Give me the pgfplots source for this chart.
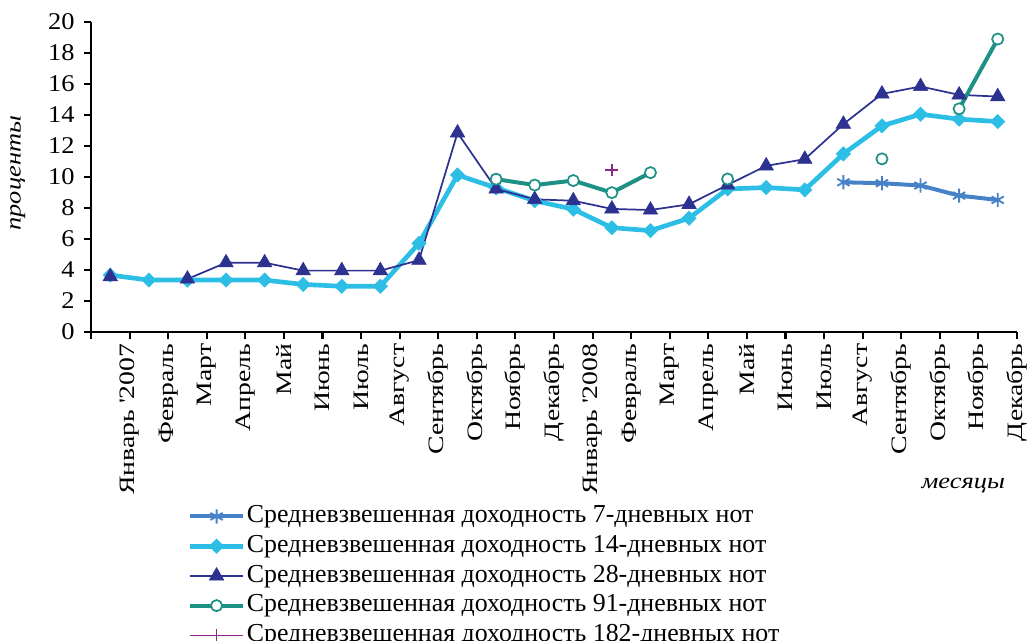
\documentclass[border=0pt]{standalone}
\usepackage{fontspec}
\setmainfont{Liberation Serif}
\newfontfamily\xtfont[FakeStretch=1.26]{Liberation Serif}
\newfontfamily\ytfont[FakeStretch=1.1]{Liberation Serif}
\newfontfamily\labfont[FakeStretch=1.2]{Liberation Serif}
\usepackage{pgfplots}
\pgfplotsset{compat=1.18}
\definecolor{c7}{RGB}{70,130,200}
\definecolor{c14}{RGB}{45,190,230}
\definecolor{c28}{RGB}{45,50,145}
\definecolor{c91}{RGB}{30,145,135}
\definecolor{c182}{RGB}{140,40,140}
\begin{document}
\begin{tikzpicture}
\useasboundingbox (-68.25pt,-231pt) rectangle (705.75pt,249pt);
\begin{axis}[
  at={(0pt,0pt)}, anchor=south west,
  width=694.5pt, height=232.5pt, scale only axis,
  /pgf/number format/assume math mode=true,
  xmin=0, xmax=24, ymin=0, ymax=20,
  axis x line*=bottom, axis y line*=left,
  axis line style={line width=1.6pt, black},
  every tick/.style={line width=1.6pt, black},
  tick align=outside, major tick length=5.25pt,
  xtick={0,...,24},
  xticklabels={,Январь \textquotesingle 2007,Февраль,Март,Апрель,Май,Июнь,Июль,Август,Сентябрь,Октябрь,Ноябрь,Декабрь,Январь \textquotesingle 2008,Февраль,Март,Апрель,Май,Июнь,Июль,Август,Сентябрь,Октябрь,Ноябрь,Декабрь},
  x tick label style={rotate=90, anchor=east, font=\xtfont\fontsize{16.5}{19}\selectfont},
  ytick={0,2,...,20},
  y tick label style={font=\ytfont\fontsize{18}{20}\selectfont, xshift=-3.5pt},
  xlabel={\labfont\itshape месяцы},
  xlabel style={at={(axis description cs:0.942,-0.494)}, anchor=center, font=\fontsize{16.5}{19}\selectfont},
  ylabel={\labfont\itshape проценты},
  ylabel style={at={(axis description cs:-0.079,0.513)}, anchor=center, font=\fontsize{16.5}{19}\selectfont},
  unbounded coords=jump,
  legend image code/.code={\draw[mark repeat=2,mark phase=2,#1] plot coordinates {(0pt,0pt)(20pt,0pt)(40pt,0pt)};},
  legend style={at={(0.104,-0.55)}, anchor=north west, draw=none, fill=none, inner sep=0pt,
    font=\fontsize{19.4}{22}\selectfont,
    nodes={inner sep=1pt, text height=14pt, text depth=4.5pt},
    row sep=1.8pt},
  legend cell align=left,
]
\addplot[c7, line width=3pt, mark=asterisk, mark size=5.3pt, mark options={solid, line width=1.4pt}]
  coordinates {(19.5,9.66)(20.5,9.6)(21.5,9.45)(22.5,8.8)(23.5,8.52)};
\addlegendentry{Средневзвешенная доходность 7-дневных нот}
\addplot[c14, line width=3.5pt, mark=square*, mark size=3.8pt, mark options={solid, rotate=45, line width=0.4pt}]
  coordinates {(0.5,3.67)(1.5,3.35)(2.5,3.35)(3.5,3.35)(4.5,3.35)(5.5,3.07)(6.5,2.95)(7.5,2.95)(8.5,5.72)(9.5,10.13)(10.5,9.3)(11.5,8.47)
  (12.5,7.92)(13.5,6.73)(14.5,6.54)(15.5,7.34)(16.5,9.23)(17.5,9.32)(18.5,9.17)(19.5,11.49)(20.5,13.3)(21.5,14.05)(22.5,13.73)(23.5,13.58)};
\addlegendentry{Средневзвешенная доходность 14-дневных нот}
\addplot[c28, line width=1.3pt, mark=triangle*, mark size=6.3pt, mark options={solid, line width=0.4pt}]
  coordinates {(0.5,3.57)(1.5,nan)(2.5,3.42)(3.5,4.47)(4.5,4.47)(5.5,3.96)(6.5,3.96)(7.5,3.96)(8.5,4.63)(9.5,12.85)(10.5,9.23)(11.5,8.56)
  (12.5,8.47)(13.5,7.94)(14.5,7.87)(15.5,8.24)(16.5,9.49)(17.5,10.72)(18.5,11.15)(19.5,13.41)(20.5,15.36)(21.5,15.84)(22.5,15.3)(23.5,15.19)};
\addlegendentry{Средневзвешенная доходность 28-дневных нот}
\addplot[c91, line width=3pt, mark=*, mark size=4.2pt, mark options={solid, fill=white, line width=1.3pt}]
  coordinates {(10.5,9.86)(11.5,9.48)(12.5,9.77)(13.5,8.99)(14.5,10.28)(15.5,nan)(16.5,9.87)(17.5,nan)(18.5,nan)(19.5,nan)(20.5,11.17)(21.5,nan)(22.5,14.4)(23.5,18.9)};
\addlegendentry{Средневзвешенная доходность 91-дневных нот}
\addplot[c182, line width=1pt, mark=+, mark size=4.8pt, mark options={solid, line width=1.3pt}]
  coordinates {(13.5,10.45)};
\addlegendentry{Средневзвешенная доходность 182-дневных нот}
\end{axis}
\end{tikzpicture}
\end{document}
